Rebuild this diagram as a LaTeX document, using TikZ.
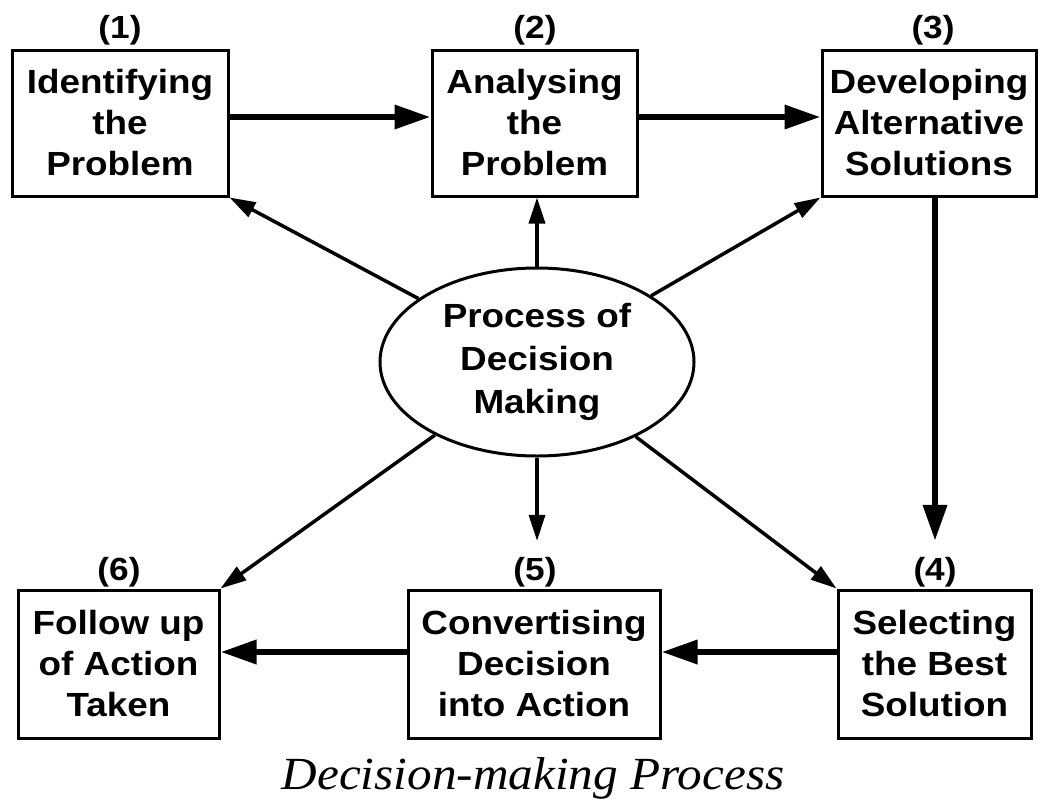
\documentclass[tikz,border=0pt]{standalone}
\usepackage{fontspec}
\usetikzlibrary{arrows.meta,shapes.geometric}
\newfontfamily\boxfont{Liberation Sans}[FakeStretch=1.1]
\newfontfamily\captionfont{Liberation Serif}[FakeStretch=1.07]
\begin{document}
\begin{tikzpicture}[x=1pt,y=-1pt,
  stepbox/.style={draw,line width=3pt,align=center,inner sep=0pt,
    font=\boxfont\bfseries\fontsize{33.5}{41}\selectfont},
  numlabel/.style={inner sep=0pt,font=\boxfont\bfseries\fontsize{32}{36}\selectfont},
  thick arrow/.style={line width=6.5pt,-{Triangle[length=36pt,width=23pt]}},
  thin arrow/.style={line width=3.5pt,-{Triangle[length=26pt,width=16pt]}}]
\useasboundingbox (0,0) rectangle (1040,798);
% top boxes
\node[stepbox,minimum width=216pt,minimum height=146pt] (b1) at (120,123) {Identifying\\the\\Problem};
\node[stepbox,minimum width=205pt,minimum height=146pt] (b2) at (534.5,123) {Analysing\\the\\Problem};
\node[stepbox,minimum width=214pt,minimum height=146pt] (b3) at (929,123) {Developing\\Alternative\\Solutions};
% bottom boxes
\node[stepbox,minimum width=201pt,minimum height=148pt] (b6) at (118.5,664) {Follow up\\of Action\\Taken};
\node[stepbox,minimum width=252pt,minimum height=148pt] (b5) at (534,664) {Convertising\\Decision\\into Action};
\node[stepbox,minimum width=193pt,minimum height=148pt] (b4) at (934.5,664) {Selecting\\the Best\\Solution};
% number labels
\node[numlabel] (l1) at (120,30) {(1)};
\node[numlabel] (l2) at (535,30) {(2)};
\node[numlabel] (l3) at (933,30) {(3)};
\node[numlabel] (l6) at (119,572) {(6)};
\node[numlabel] (l5) at (535,572) {(5)};
\node[numlabel] (l4) at (935,572) {(4)};
% ellipse
\node[draw,ellipse,line width=3pt,minimum width=314pt,minimum height=188pt,inner sep=0pt,align=center,
  font=\boxfont\bfseries\fontsize{33.5}{43}\selectfont] (e) at (537,362) {Process of\\Decision\\Making};
% caption
\node[anchor=base,inner sep=0pt,font=\captionfont\itshape\fontsize{46}{50}\selectfont] (cap) at (533,789) {Decision-making Process};
% thick arrows
\draw[thick arrow] ([yshift=6pt]b1.east) -- ([yshift=6pt]b2.west);
\draw[thick arrow] ([yshift=6pt]b2.east) -- ([yshift=6pt]b3.west);
\draw[thick arrow] (b4.west |- 0,652) -- (b5.east |- 0,652);
\draw[thick arrow] (b5.west |- 0,652) -- (b6.east |- 0,652);
\draw[thick arrow] (l4.north |- b3.south) -- ([yshift=16pt]l4.north);
% thin arrows
\draw[thin arrow] (e) -- (b1.south east);
\draw[thin arrow] (e.north) -- (e.north |- b2.south);
\draw[thin arrow] (e) -- (b3.south west);
\draw[thin arrow] (e) -- (b6.north east);
\draw[thin arrow] (e.south) -- ([yshift=16pt]e.south |- l5.north);
\draw[thin arrow] (e) -- (b4.north west);
\end{tikzpicture}
\end{document}
